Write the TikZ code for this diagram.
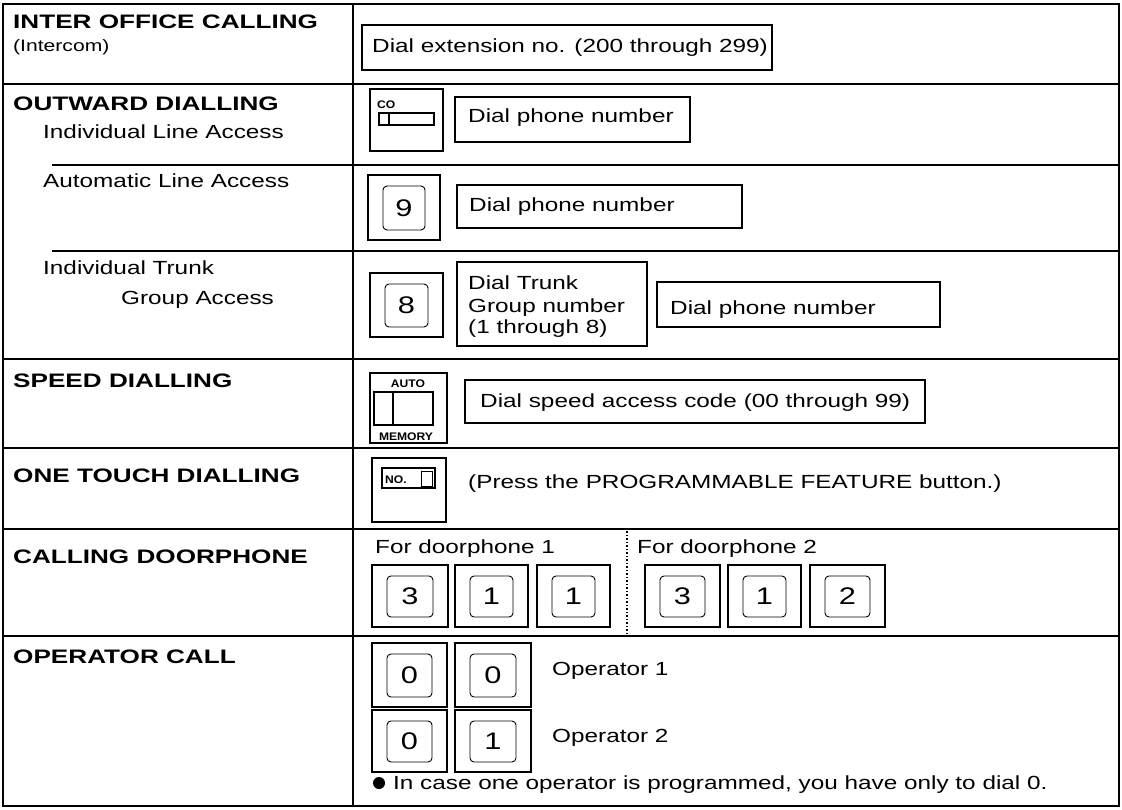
\documentclass[tikz,border=0pt]{standalone}
\usepackage{fontspec}
\setmainfont[FakeStretch=1.28]{Liberation Sans}
\newfontfamily\ttlfont[FakeStretch=1.34]{Liberation Sans}
\newfontfamily\tinyfont[FakeStretch=1.1]{Liberation Sans}
\usetikzlibrary{fit}
\newcommand\dkey[6]{%
  \node[keyo, fit={(#2,#3) (#4,#5)}] (#1o) {};
  \node[keyi, fit={(#2+15,#3+11) (#4-15,#5-10)}] (#1) {};
  \node[digit] (#1d) at (#1.center) {#6};
}
\begin{document}
\begin{tikzpicture}[x=1pt,y=-1pt,
  grid/.style={line width=1.9pt},
  subline/.style={line width=1.6pt},
  txt/.style={anchor=base west, inner sep=0pt, font=\fontsize{19}{22}\selectfont},
  sml/.style={anchor=base west, inner sep=0pt, font=\fontsize{16.5}{19}\selectfont},
  ttl/.style={anchor=base west, inner sep=0pt, font=\ttlfont\bfseries\fontsize{19.5}{22}\selectfont},
  frame/.style={draw, line width=1.6pt, inner sep=0pt},
  keyo/.style={draw, line width=1.4pt, inner sep=0pt},
  keyi/.style={draw, line width=0.9pt, inner sep=0pt, rounded corners=4pt},
  digit/.style={inner sep=0pt, anchor=center, font=\fontsize{24}{26}\selectfont},
  tiny/.style={inner sep=0pt, font=\tinyfont\bfseries\fontsize{11}{12}\selectfont},
  thin/.style={line width=1.1pt}
]
\useasboundingbox (0,0) rectangle (1122,810);
% table frame
\draw[grid] (3,4) rectangle (1119,806);
\draw[grid] (353,4) -- (353,806);
\draw[grid] (3,84) -- (1119,84);
\draw[subline] (52,165) -- (1119,165);
\draw[subline] (52,251) -- (1119,251);
\draw[grid] (3,359) -- (1119,359);
\draw[grid] (3,448) -- (1119,448);
\draw[grid] (3,529) -- (1119,529);
\draw[grid] (3,636) -- (1119,636);

% left column
\node[ttl] (t1) at (13,29) {INTER OFFICE CALLING};
\node[sml] (t1b) at (13,52) {(Intercom)};
\node[ttl] (t2) at (13,111) {OUTWARD DIALLING};
\node[txt] (t2a) at (43,139) {Individual Line Access};
\node[txt] (t2b) at (43,188) {Automatic Line Access};
\node[txt] (t2c) at (43,275) {Individual Trunk};
\node[txt] (t2d) at (121,305) {Group Access};
\node[ttl] (t3) at (13,388) {SPEED DIALLING};
\node[ttl] (t4) at (13,482) {ONE TOUCH DIALLING};
\node[ttl] (t5) at (13,563) {CALLING DOORPHONE};
\node[ttl] (t6) at (13,663) {OPERATOR CALL};

% row: intercom
\node[frame, fit={(362,25) (772,70)}] (b0) {};
\node[txt] (b0t) at (372,53) {Dial extension no. (200 through 299)};

% row: individual line access
\node[keyo, fit={(370,89) (443,151)}] (co) {};
\node[tiny, anchor=base west] (cot) at (377,109) {CO};
\node[thin, draw, inner sep=0pt, fit={(379,113) (434,125)}] (cos) {};
\draw[thin] (389,113) -- (389,125);
\node[frame, fit={(455,97) (690,142)}] (b1) {};
\node[txt] (b1t) at (468,123) {Dial phone number};

% row: automatic line access
\dkey{k9}{368}{175}{440}{240}{9}
\node[frame, fit={(457,185) (742,228)}] (b2) {};
\node[txt] (b2t) at (469,212) {Dial phone number};

% row: trunk group access
\dkey{k8}{370}{273}{443}{337}{8}
\node[frame, fit={(457,262) (647,346)}] (b3) {};
\node[txt] (b3a) at (468,290) {Dial Trunk};
\node[txt] (b3b) at (468,313) {Group number};
\node[txt] (b3c) at (468,334) {(1 through 8)};
\node[frame, fit={(657,282) (940,327)}] (b4) {};
\node[txt] (b4t) at (670,315) {Dial phone number};

% row: speed dialling
\node[keyo, fit={(370,373) (447,443)}] (am) {};
\node[tiny, anchor=base] (amt) at (408,388) {AUTO};
\node[thin, draw, inner sep=0pt, fit={(374,392) (433,425)}] (ams) {};
\draw[thin] (393,392) -- (393,425);
\node[tiny, anchor=base] (amb) at (406,440) {MEMORY};
\node[frame, fit={(465,380) (925,423)}] (b5) {};
\node[txt] (b5t) at (480,407) {Dial speed access code (00 through 99)};

% row: one touch dialling
\node[keyo, fit={(372,458) (446,522)}] (no) {};
\node[thin, draw, inner sep=0pt, fit={(382,468) (435,488)}] (nol) {};
\node[tiny, anchor=base west] (not) at (385,483) {NO.};
\node[draw, line width=0.8pt, inner sep=0pt, fit={(421,471) (432,486)}] (nob) {};
\node[txt] (b6t) at (468,488) {(Press the PROGRAMMABLE FEATURE button.)};

% row: calling doorphone
\node[txt] (d1) at (375,553) {For doorphone 1};
\node[txt] (d2) at (637,553) {For doorphone 2};
\coordinate (dt) at (627,531);
\coordinate (db) at (627,635);
\draw[line width=1.5pt, dotted] (dt) -- (db);
\dkey{da}{372}{565}{448}{627}{3}
\dkey{db}{455}{565}{528}{627}{1}
\dkey{dc}{537}{565}{610}{627}{1}
\dkey{dd}{645}{565}{720}{627}{3}
\dkey{de}{728}{565}{801}{627}{1}
\dkey{df}{810}{565}{885}{627}{2}

% row: operator call
\dkey{oa}{372}{643}{447}{707}{0}
\dkey{ob}{455}{643}{531}{707}{0}
\dkey{oc}{372}{710}{447}{772}{0}
\dkey{od}{455}{710}{531}{772}{1}
\node[txt] (op1) at (552,675) {Operator 1};
\node[txt] (op2) at (552,742) {Operator 2};
\node[circle, fill, inner sep=0pt, minimum size=12pt] (bul) at (379,783) {};
\node[txt] (note) at (393,789) {In case one operator is programmed, you have only to dial 0.};
\end{tikzpicture}
\end{document}
